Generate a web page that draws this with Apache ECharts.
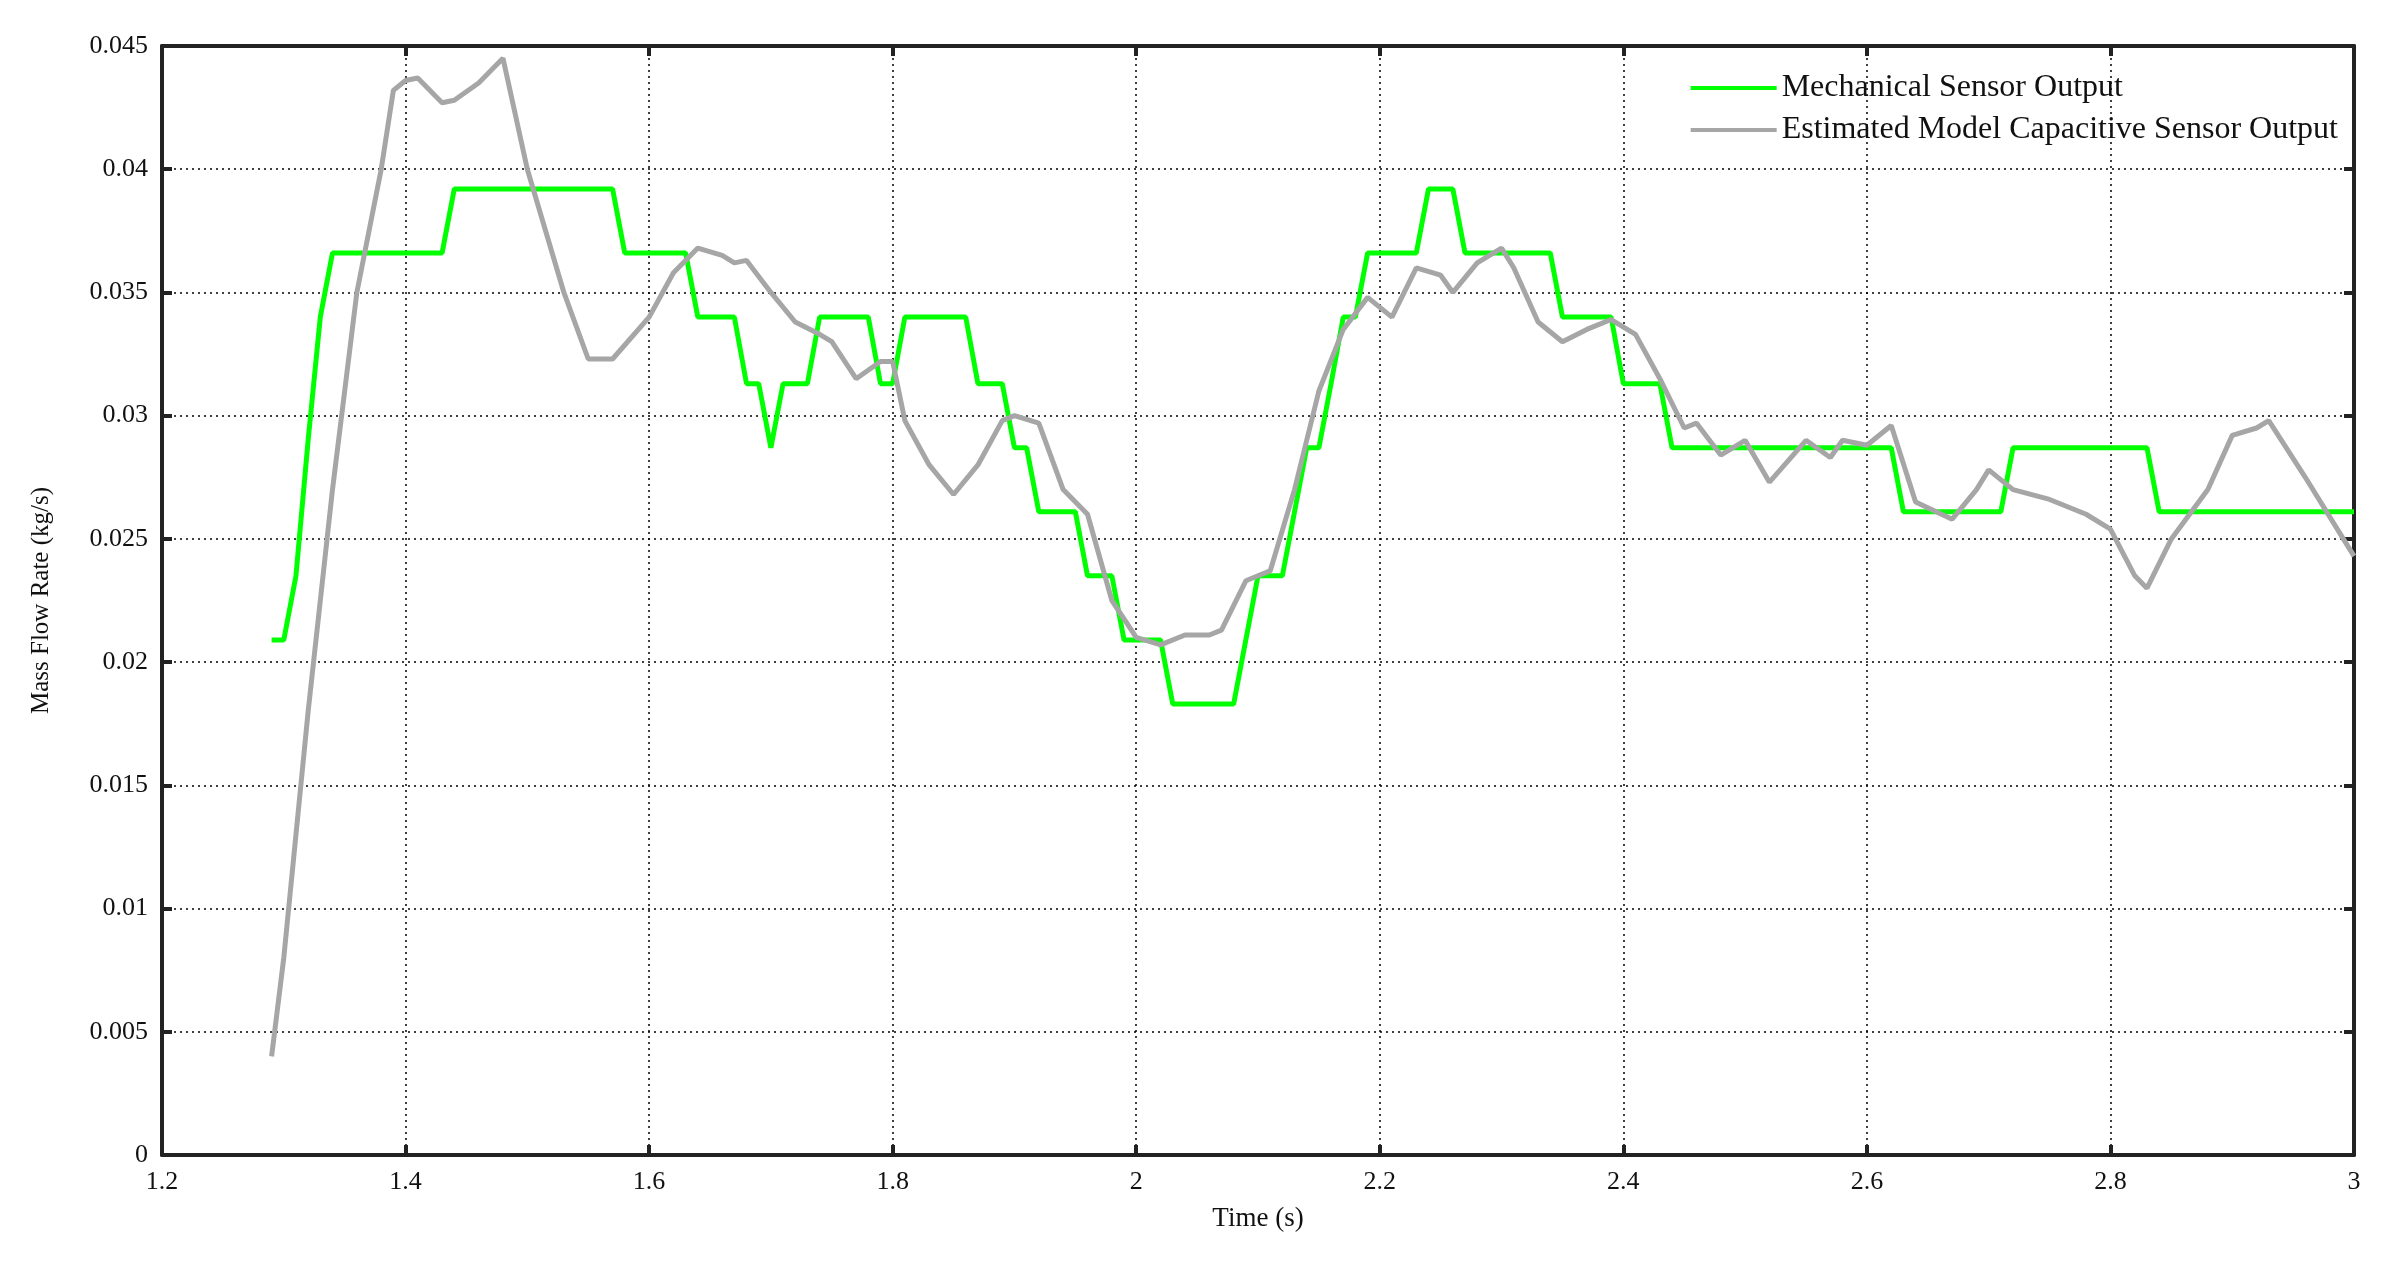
<!DOCTYPE html>
<html><head><meta charset="utf-8">
<script src="https://cdn.jsdelivr.net/npm/echarts@6/dist/echarts.min.js"></script>
<style>html,body{margin:0;padding:0;background:#fff}#c{width:2400px;height:1270px}</style>
</head><body><div id="c"></div>
<script>
const mechT = [1.29,1.30,1.31,1.32,1.33,1.34,1.43,1.44,1.57,1.58,1.63,1.64,1.67,1.68,1.69,1.70,1.71,1.73,1.74,1.78,1.79,1.80,1.81,1.86,1.87,1.89,1.90,1.91,1.92,1.95,1.96,1.98,1.99,2.02,2.03,2.08,2.10,2.12,2.13,2.14,2.15,2.16,2.17,2.18,2.19,2.23,2.24,2.26,2.27,2.34,2.35,2.39,2.40,2.43,2.44,2.62,2.63,2.71,2.72,2.83,2.84,3.00];
const mechV = [0.0209,0.0209,0.0235,0.029,0.034,0.0366,0.0366,0.0392,0.0392,0.0366,0.0366,0.034,0.034,0.0313,0.0313,0.0287,0.0313,0.0313,0.034,0.034,0.0313,0.0313,0.034,0.034,0.0313,0.0313,0.0287,0.0287,0.0261,0.0261,0.0235,0.0235,0.0209,0.0209,0.0183,0.0183,0.0235,0.0235,0.0261,0.0287,0.0287,0.0313,0.034,0.034,0.0366,0.0366,0.0392,0.0392,0.0366,0.0366,0.034,0.034,0.0313,0.0313,0.0287,0.0287,0.0261,0.0261,0.0287,0.0287,0.0261,0.0261];
const estT = [1.29,1.30,1.32,1.34,1.36,1.38,1.39,1.40,1.41,1.43,1.44,1.46,1.48,1.50,1.53,1.55,1.57,1.60,1.62,1.64,1.66,1.67,1.68,1.70,1.72,1.74,1.75,1.77,1.79,1.80,1.81,1.83,1.85,1.87,1.89,1.90,1.92,1.94,1.96,1.98,2.00,2.02,2.04,2.06,2.07,2.09,2.11,2.13,2.15,2.17,2.19,2.21,2.23,2.25,2.26,2.28,2.30,2.31,2.33,2.35,2.37,2.39,2.41,2.43,2.45,2.46,2.48,2.50,2.52,2.55,2.57,2.58,2.60,2.62,2.64,2.67,2.69,2.70,2.72,2.75,2.78,2.80,2.82,2.83,2.85,2.88,2.90,2.92,2.93,2.96,3.00];
const estV = [0.004,0.008,0.018,0.027,0.035,0.040,0.0432,0.0436,0.0437,0.0427,0.0428,0.0435,0.0445,0.040,0.035,0.0323,0.0323,0.034,0.0358,0.0368,0.0365,0.0362,0.0363,0.035,0.0338,0.0333,0.033,0.0315,0.0322,0.0322,0.0298,0.028,0.0268,0.028,0.0298,0.030,0.0297,0.027,0.026,0.0225,0.021,0.0207,0.0211,0.0211,0.0213,0.0233,0.0237,0.027,0.031,0.0335,0.0348,0.034,0.036,0.0357,0.035,0.0362,0.0368,0.036,0.0338,0.033,0.0335,0.0339,0.0333,0.0315,0.0295,0.0297,0.0284,0.029,0.0273,0.029,0.0283,0.029,0.0288,0.0296,0.0265,0.0258,0.027,0.0278,0.027,0.0266,0.026,0.0254,0.0235,0.023,0.025,0.027,0.0292,0.0295,0.0298,0.0275,0.0243];
const names = ['Mechanical Sensor Output','Estimated Model Capacitive Sensor Output'];
const font = 'Liberation Serif';
const zip = (a,b)=>a.map((x,i)=>[x,b[i]]);
const axLine = {show:true,onZero:false,lineStyle:{color:'#222',width:4}};
const tick = {show:true,inside:true,length:10,lineStyle:{color:'#222',width:4}};
const grid = {show:true,lineStyle:{color:'#000',type:[2,4],width:1.5}};
const chart = echarts.init(document.getElementById('c'));
chart.setOption({
  animation:false,
  grid:{left:162,right:46,top:46,bottom:115},
  legend:{right:57,top:67,orient:'vertical',itemWidth:86,itemHeight:4,itemGap:10,
    textStyle:{fontFamily:font,fontSize:32,color:'#111'},
    data:names.map(n=>({name:n,icon:'rect'}))},
  xAxis:[{type:'value',min:1.2,max:3.0,interval:0.2,axisLine:axLine,axisTick:tick,splitLine:grid,
    name:'Time (s)',nameLocation:'middle',nameGap:50,nameTextStyle:{fontFamily:font,fontSize:27,color:'#111'},
    axisLabel:{fontFamily:font,fontSize:26,color:'#111',margin:14,formatter:v=>String(+v.toFixed(1))}},
    {type:'value',position:'top',min:1.2,max:3.0,interval:0.2,axisLine:axLine,axisTick:tick,axisLabel:{show:false},splitLine:{show:false}}],
  yAxis:[{type:'value',min:0,max:0.045,interval:0.005,axisLine:axLine,axisTick:tick,splitLine:grid,
    name:'Mass Flow Rate (kg/s)',nameLocation:'middle',nameGap:108,nameTextStyle:{fontFamily:font,fontSize:25,color:'#111'},
    axisLabel:{fontFamily:font,fontSize:26,color:'#111',margin:14,formatter:v=>String(+v.toFixed(3))}},
    {type:'value',position:'right',min:0,max:0.045,interval:0.005,axisLine:axLine,axisTick:tick,axisLabel:{show:false},splitLine:{show:false}}],
  series:[
    {name:names[0],type:'line',data:zip(mechT,mechV),showSymbol:false,lineStyle:{color:'#00ff00',width:5},itemStyle:{color:'#00ff00'}},
    {name:names[1],type:'line',data:zip(estT,estV),showSymbol:false,lineStyle:{color:'#a6a6a6',width:5},itemStyle:{color:'#a6a6a6'}}
  ]
});
</script></body></html>
